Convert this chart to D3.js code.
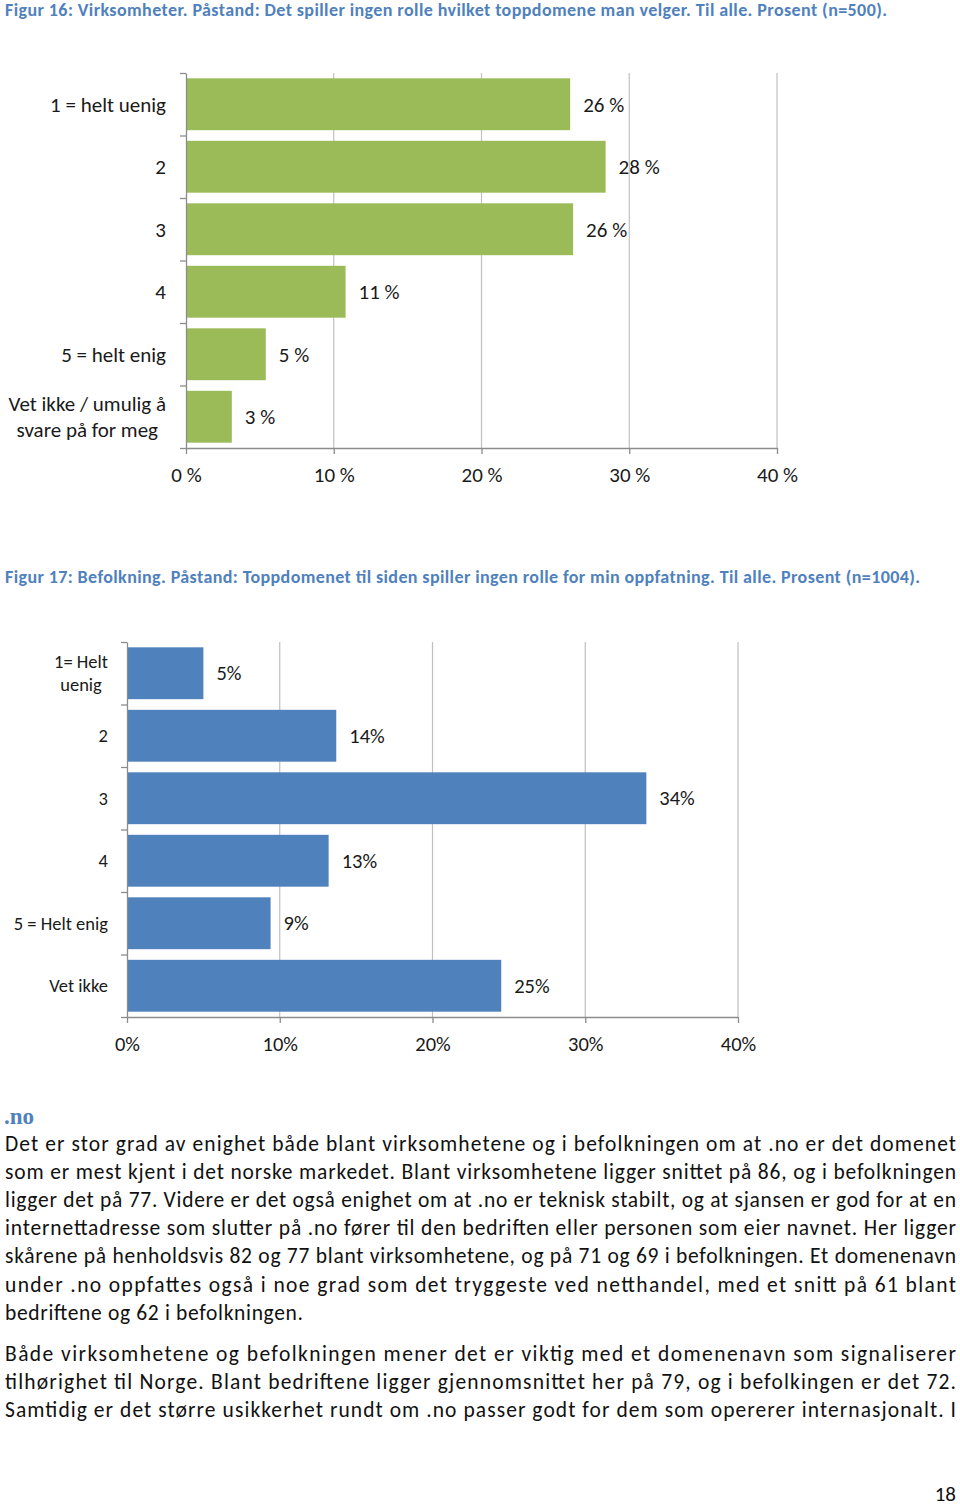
<!DOCTYPE html>
<html><head><meta charset="utf-8">
<script src="https://cdn.jsdelivr.net/npm/d3@7"></script>
<style>
html,body{margin:0;padding:0;background:#fff;}
svg{display:block;}
</style></head>
<body>
<svg id="page" width="960" height="1508"></svg>
<script>
// ---------- DATA ----------
const title1 = "Figur 16: Virksomheter. Påstand: Det spiller ingen rolle hvilket toppdomene man velger. Til alle. Prosent (n=500).";
const categories1 = ["1 = helt uenig", "2", "3", "4", "5 = helt enig", "Vet ikke / umulig å\nsvare på for meg"];
const values1 = [26.0, 28.4, 26.2, 10.8, 5.4, 3.1];
const ticks1 = [0, 10, 20, 30, 40];

const title2 = "Figur 17: Befolkning. Påstand: Toppdomenet til siden spiller ingen rolle for min oppfatning. Til alle. Prosent (n=1004).";
const categories2 = ["1= Helt\nuenig", "2", "3", "4", "5 = Helt enig", "Vet ikke"];
const values2 = [5.0, 13.7, 34.0, 13.2, 9.4, 24.5];
const ticks2 = [0, 10, 20, 30, 40];

const heading = ".no";
const para1 = [
 "Det er stor grad av enighet både blant virksomhetene og i befolkningen om at .no er det domenet",
 "som er mest kjent i det norske markedet. Blant virksomhetene ligger snittet på 86, og i befolkningen",
 "ligger det på 77. Videre er det også enighet om at .no er teknisk stabilt, og at sjansen er god for at en",
 "internettadresse som slutter på .no fører til den bedriften eller personen som eier navnet. Her ligger",
 "skårene på henholdsvis 82 og 77 blant virksomhetene, og på 71 og 69 i befolkningen. Et domenenavn",
 "under .no oppfattes også i noe grad som det tryggeste ved netthandel, med et snitt på 61 blant",
 "bedriftene og 62 i befolkningen."
];
const para2 = [
 "Både virksomhetene og befolkningen mener det er viktig med et domenenavn som signaliserer",
 "tilhørighet til Norge. Blant bedriftene ligger gjennomsnittet her på 79, og i befolkingen er det 72.",
 "Samtidig er det større usikkerhet rundt om .no passer godt for dem som opererer internasjonalt. I"
];
const pageNumber = "18";

// ---------- DRAW ----------
const FONT = "Carlito, Lato, 'Open Sans', sans-serif";
const svg = d3.select("#page").style("font-family", FONT);
const blue = "#4F81BD", green = "#9BBB59", textCol = "#1a1a1a";

function drawTitle(t, y, len) {
  svg.append("text").attr("x", 5).attr("y", y)
    .attr("font-size", 18).attr("font-weight", "bold").attr("fill", blue)
    .attr("textLength", len).attr("lengthAdjust", "spacing")
    .style("font-family", FONT)
    .text(t);
}

function drawChart(opts) {
  const {cats, vals, ticks, x0, x1, y0, y1, color, catSize, valSize, tickSize, fmtTick, fmtVal, labelRight} = opts;
  const g = svg.append("g");
  const x = d3.scaleLinear().domain([0, 40]).range([x0, x1]);
  const y = d3.scaleBand().domain(cats).range([y0, y1]).paddingInner(0.17).paddingOuter(0.085);
  const yIdx = d3.scaleLinear().domain([0, cats.length]).range([y0, y1]);

  // gridlines
  g.append("g").selectAll("line").data(ticks.filter(d => d > 0)).join("line")
    .attr("x1", d => x(d)).attr("x2", d => x(d)).attr("y1", y0).attr("y2", y1)
    .attr("stroke", "#C0C0C0").attr("stroke-width", 1.2);

  // bars
  g.append("g").selectAll("rect").data(vals).join("rect")
    .attr("x", x(0)).attr("y", (d, i) => y(cats[i]))
    .attr("width", d => x(d) - x(0)).attr("height", y.bandwidth())
    .attr("fill", color);

  // value labels
  g.append("g").selectAll("text").data(vals).join("text")
    .attr("x", d => x(d) + 13).attr("y", (d, i) => y(cats[i]) + y.bandwidth() / 2)
    .attr("dy", "0.35em").attr("font-size", valSize).attr("fill", textCol)
    .text(d => fmtVal(d));

  // left axis (band boundaries)
  const la = g.append("g").attr("transform", `translate(${x(0)},0)`)
    .call(d3.axisLeft(yIdx).tickValues(d3.range(cats.length + 1)).tickFormat("").tickSize(6).tickSizeOuter(0));
  la.selectAll("path,line").attr("stroke", "#8C8C8C").attr("stroke-width", 1.3);

  // bottom axis
  const ba = g.append("g").attr("transform", `translate(0,${y1})`)
    .call(d3.axisBottom(x).tickValues(ticks).tickFormat(fmtTick).tickSize(6).tickSizeOuter(0).tickPadding(opts.tickPad));
  ba.attr("font-family", null).attr("font-size", null);
  ba.selectAll("path,line").attr("stroke", "#8C8C8C").attr("stroke-width", 1.3);
  ba.selectAll("text").attr("font-size", tickSize).attr("fill", textCol).style("font-family", FONT);

  // category labels
  const lg = g.append("g");
  cats.forEach((c, i) => {
    const lines = c.split("\n");
    const cy = y(c) + y.bandwidth() / 2;
    const lh = catSize * 1.25;
    const t = lg.append("text").attr("font-size", catSize).attr("fill", textCol).attr("text-anchor", "middle");
    lines.forEach((ln, k) => {
      t.append("tspan").attr("y", cy + (k - (lines.length - 1) / 2) * lh).attr("dy", "0.35em").text(ln);
    });
    let w = 0;
    t.selectAll("tspan").each(function () { w = Math.max(w, this.getComputedTextLength()); });
    t.selectAll("tspan").attr("x", labelRight - w / 2);
  });
}

drawTitle(title1, 16, 882);
drawChart({cats: categories1, vals: values1, ticks: ticks1, x0: 186, x1: 777, y0: 73, y1: 448,
  color: green, catSize: 21, valSize: 21, tickSize: 21, tickPad: 13,
  fmtTick: d => d + " %", fmtVal: d => Math.round(d) + " %", labelRight: 166});

drawTitle(title2, 583, 915);
drawChart({cats: categories2, vals: values2, ticks: ticks2, x0: 127, x1: 738, y0: 642, y1: 1017,
  color: blue, catSize: 18.5, valSize: 20.5, tickSize: 20.5, tickPad: 13,
  fmtTick: d => d + "%", fmtVal: d => Math.round(d) + "%", labelRight: 108});

svg.append("text").attr("x", 4).attr("y", 1124).attr("font-size", 23).attr("font-weight", "bold")
  .style("font-family", "'Liberation Serif', 'DejaVu Serif', serif").attr("fill", blue).text(heading);

function drawPara(lines, yStart, widths) {
  lines.forEach((ln, i) => {
    const t = svg.append("text").attr("x", 5).attr("y", yStart + i * 28.1)
      .attr("font-size", 21.5).attr("fill", "#111").style("font-family", FONT).text(ln);
    t.attr("textLength", widths[i] || 951).attr("lengthAdjust", "spacing");
  });
}
drawPara(para1, 1151, [951, 951, 951, 951, 951, 951, 298]);
drawPara(para2, 1361, [951, 951, 951]);

svg.append("text").attr("x", 956).attr("y", 1501).attr("text-anchor", "end")
  .attr("font-size", 21).attr("fill", "#111").style("font-family", FONT).text(pageNumber);
</script>
</body></html>
